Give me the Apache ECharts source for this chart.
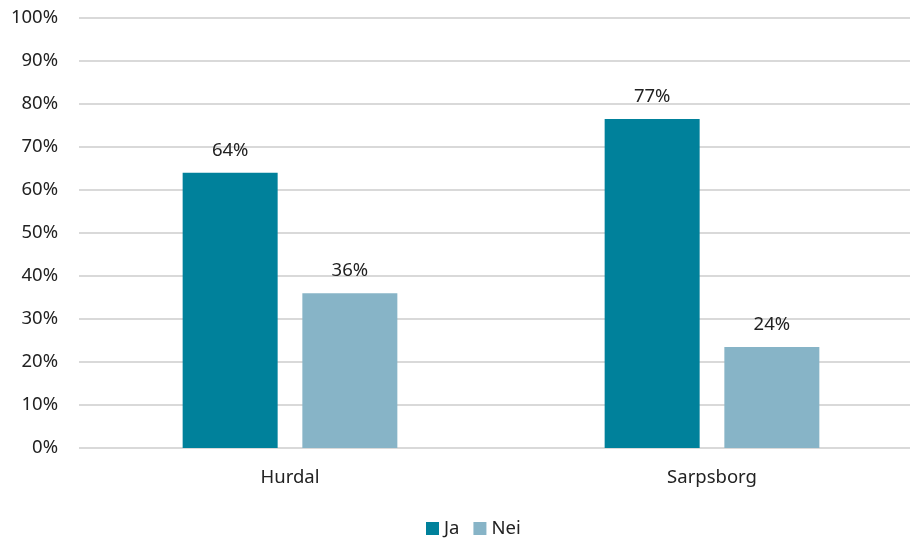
<html lang="no">
<head>
  <meta charset="UTF-8">
  <title>Ja / Nei</title>
  <style>
    *{ margin: 0; padding: 0; }
    #main{ width: 910px; height: 538px; }
  </style>
</head>
<body>
  <div id="main"></div>
  <script src="https://cdn.jsdelivr.net/npm/echarts@6/dist/echarts.min.js"></script>
  <script>
  var categories = ['Hurdal', 'Sarpsborg'];
  var jaValues = [64, 76.5];
  var neiValues = [36, 23.5];
  var yTicks = [0, 10, 20, 30, 40, 50, 60, 70, 80, 90, 100];

  var font = 'Noto Sans';
  var myChart = echarts.init(document.getElementById('main'));

  var labelOpt = {
    show: true,
    position: 'top',
    distance: 13,
    fontFamily: font,
    fontSize: 18.5,
    color: '#222',
    formatter: function (p) { return Math.round(p.value) + '%'; }
  };

  var option = {
    animation: false,
    textStyle: { fontFamily: font },
    grid: { left: 79, top: 18, width: 844, height: 430, outerBoundsMode: 'none', containLabel: false },
    legend: {
      top: 519,
      left: 426,
      padding: 0,
      itemWidth: 13,
      itemHeight: 13,
      itemGap: 14,
      icon: 'rect',
      textStyle: { fontFamily: font, fontSize: 18.5, color: '#222' },
      data: ['Ja', 'Nei']
    },
    xAxis: {
      type: 'category',
      data: categories,
      axisLine: { show: false },
      axisTick: { show: false },
      axisLabel: { fontFamily: font, fontSize: 18.5, color: '#222', margin: 20 }
    },
    yAxis: {
      type: 'value',
      min: yTicks[0],
      max: yTicks[yTicks.length - 1],
      interval: 10,
      axisLine: { show: false },
      axisTick: { show: false },
      splitLine: { lineStyle: { color: '#d9d9d9', width: 2 } },
      axisLabel: { fontFamily: font, fontSize: 18.5, color: '#222', margin: 21, formatter: '{value}%' }
    },
    series: [
      {
        name: 'Ja',
        type: 'bar',
        data: jaValues,
        barWidth: 95,
        barGap: '26%',
        itemStyle: { color: '#00819b' },
        label: labelOpt
      },
      {
        name: 'Nei',
        type: 'bar',
        data: neiValues,
        barWidth: 95,
        itemStyle: { color: '#87b4c7' },
        label: labelOpt
      }
    ]
  };
  myChart.setOption(option);
  </script>
</body>
</html>
